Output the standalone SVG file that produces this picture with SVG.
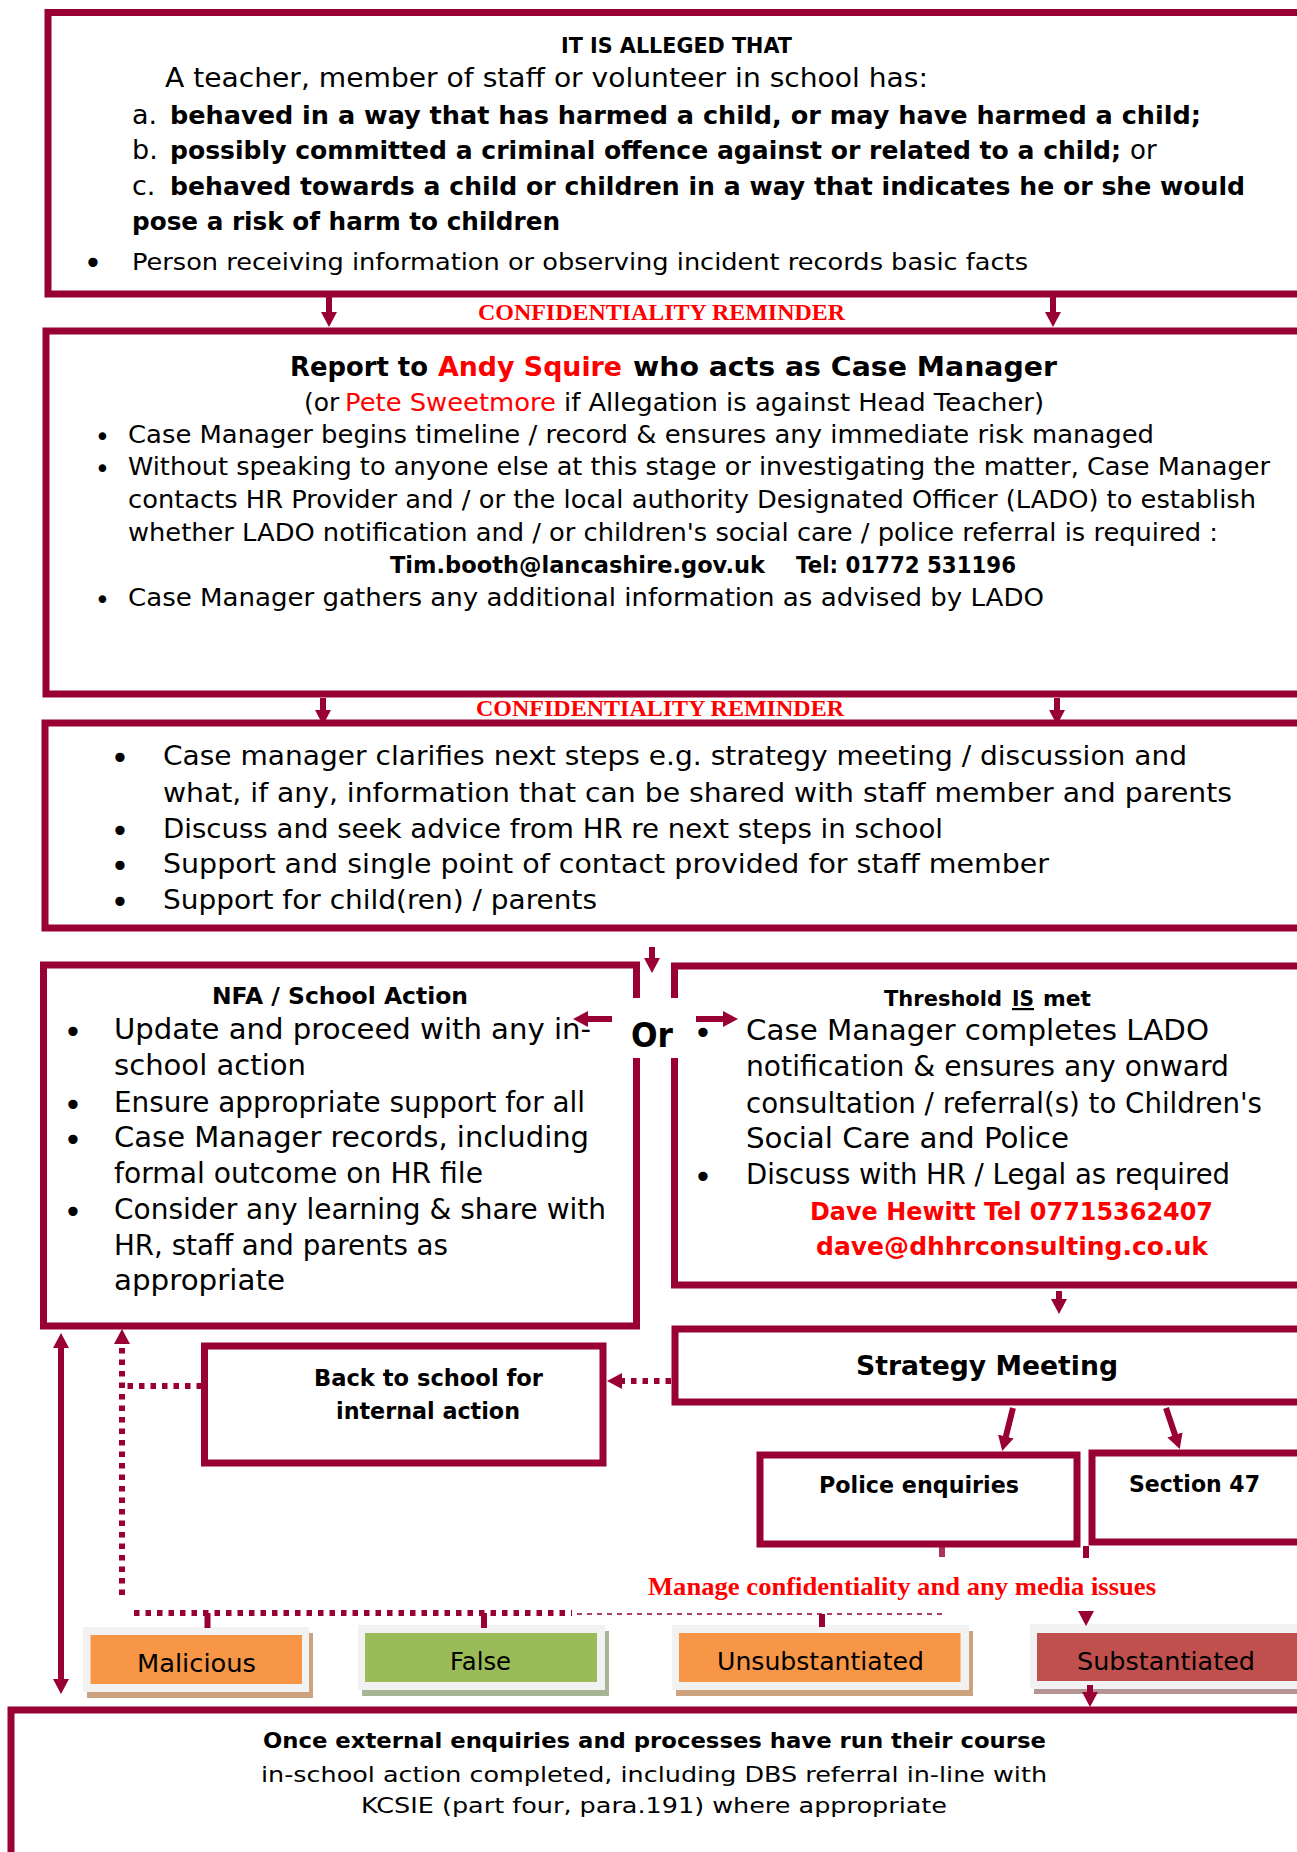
<svg xmlns="http://www.w3.org/2000/svg" width="1297" height="1852" viewBox="0 0 1297 1852">
<defs>
<style>
.t{font-family:"DejaVu Sans","Liberation Sans",sans-serif;fill:#000}
.b{font-weight:bold}
.r{fill:#ff0000}
.bl{font-family:"DejaVu Sans","Liberation Sans",sans-serif;fill:#000;font-size:32px;text-anchor:middle}
.bl.bs{font-size:26px}
.tm{font-family:"Liberation Serif","Times New Roman",serif;font-weight:bold;fill:#ff0000}
.box{fill:#fff;stroke:#990033;stroke-width:7}
.open{fill:none;stroke:#990033;stroke-width:7}
.conn{stroke:#990033;stroke-width:6;fill:none}
.dot{stroke:#990033;stroke-width:6;stroke-dasharray:5.5 6;fill:none}
.dash{stroke:#990033;stroke-width:1.6;stroke-dasharray:5 5;fill:none}
.frame{fill:#f2f2f2}
</style>
<marker id="ah" viewBox="0 0 15 16" refX="1" refY="8" markerWidth="15" markerHeight="16" markerUnits="userSpaceOnUse" orient="auto-start-reverse">
<path d="M0,0 L15,8 L0,16 Z" fill="#990033"/>
</marker>
</defs>
<rect x="0" y="0" width="1297" height="1852" fill="#fff"/>

<g id="node-alleged">
<rect class="box" x="48" y="12.5" width="1262" height="281.5"/>
<text class="t b" x="561" y="53" font-size="22" textLength="231" lengthAdjust="spacingAndGlyphs">IT IS ALLEGED THAT</text>
<text class="t" x="165" y="87" font-size="26" textLength="763" lengthAdjust="spacingAndGlyphs">A teacher, member of staff or volunteer in school has:</text>
<text class="t" x="132" y="124" font-size="27">a.</text>
<text class="t b" x="170" y="124" font-size="25" textLength="1031" lengthAdjust="spacingAndGlyphs">behaved in a way that has harmed a child, or may have harmed a child;</text>
<text class="t" x="132" y="159" font-size="27">b.</text>
<text class="t b" x="170" y="159" font-size="25" textLength="951" lengthAdjust="spacingAndGlyphs">possibly committed a criminal offence against or related to a child;</text>
<text class="t" x="1130" y="159" font-size="26">or</text>
<text class="t" x="132" y="195" font-size="27">c.</text>
<text class="t b" x="170" y="195" font-size="25" textLength="1075" lengthAdjust="spacingAndGlyphs">behaved towards a child or children in a way that indicates he or she would</text>
<text class="t b" x="132" y="230" font-size="24.6" textLength="428" lengthAdjust="spacingAndGlyphs">pose a risk of harm to children</text>
<text class="bl" x="93" y="274">•</text>
<text class="t" x="132" y="270" font-size="23" textLength="896" lengthAdjust="spacingAndGlyphs">Person receiving information or observing incident records basic facts</text>
</g>

<g id="label-conf1">
<text class="tm" x="478" y="320" font-size="24" textLength="367" lengthAdjust="spacingAndGlyphs">CONFIDENTIALITY REMINDER</text>
</g>

<g id="node-report">
<rect class="box" x="46" y="331" width="1264" height="363"/>
<text class="t b" x="290" y="376" font-size="27" textLength="138" lengthAdjust="spacingAndGlyphs">Report to</text>
<text class="t b r" x="438" y="376" font-size="27" textLength="184" lengthAdjust="spacingAndGlyphs">Andy Squire</text>
<text class="t b" x="633" y="376" font-size="27" textLength="424" lengthAdjust="spacingAndGlyphs">who acts as Case Manager</text>
<text class="t" x="304" y="411" font-size="25">(or</text>
<text class="t r" x="345" y="411" font-size="25" textLength="211" lengthAdjust="spacingAndGlyphs">Pete Sweetmore</text>
<text class="t" x="564" y="411" font-size="25" textLength="480" lengthAdjust="spacingAndGlyphs">if Allegation is against Head Teacher)</text>
<text class="bl bs" x="102.5" y="446">•</text>
<text class="t" x="128" y="443" font-size="25" textLength="1026" lengthAdjust="spacingAndGlyphs">Case Manager begins timeline / record &amp; ensures any immediate risk managed</text>
<text class="bl bs" x="102.5" y="478">•</text>
<text class="t" x="128" y="475" font-size="25" textLength="1142" lengthAdjust="spacingAndGlyphs">Without speaking to anyone else at this stage or investigating the matter, Case Manager</text>
<text class="t" x="128" y="508" font-size="25" textLength="1128" lengthAdjust="spacingAndGlyphs">contacts HR Provider and / or the local authority Designated Officer (LADO) to establish</text>
<text class="t" x="128" y="541" font-size="25" textLength="1090" lengthAdjust="spacingAndGlyphs">whether LADO notification and / or children's social care / police referral is required :</text>
<text class="t b" x="390" y="573" font-size="23" textLength="375" lengthAdjust="spacingAndGlyphs">Tim.booth@lancashire.gov.uk</text>
<text class="t b" x="796" y="573" font-size="23" textLength="220" lengthAdjust="spacingAndGlyphs">Tel: 01772 531196</text>
<text class="bl bs" x="102.5" y="609">•</text>
<text class="t" x="128" y="606" font-size="25" textLength="916" lengthAdjust="spacingAndGlyphs">Case Manager gathers any additional information as advised by LADO</text>
</g>

<g id="label-conf2">
<text class="tm" x="476" y="716" font-size="24" textLength="368" lengthAdjust="spacingAndGlyphs">CONFIDENTIALITY REMINDER</text>
</g>

<g id="node-clarify">
<rect class="box" x="45" y="723" width="1265" height="205"/>
<text class="bl" x="120" y="769">•</text>
<text class="t" x="163" y="765" font-size="27" textLength="1024" lengthAdjust="spacingAndGlyphs">Case manager clarifies next steps e.g. strategy meeting / discussion and</text>
<text class="t" x="163" y="802" font-size="27" textLength="1069" lengthAdjust="spacingAndGlyphs">what, if any, information that can be shared with staff member and parents</text>
<text class="bl" x="120" y="842">•</text>
<text class="t" x="163" y="838" font-size="27" textLength="780" lengthAdjust="spacingAndGlyphs">Discuss and seek advice from HR re next steps in school</text>
<text class="bl" x="120" y="877">•</text>
<text class="t" x="163" y="873" font-size="27" textLength="886" lengthAdjust="spacingAndGlyphs">Support and single point of contact provided for staff member</text>
<text class="bl" x="120" y="913">•</text>
<text class="t" x="163" y="909" font-size="27" textLength="434" lengthAdjust="spacingAndGlyphs">Support for child(ren) / parents</text>
</g>

<g id="node-nfa">
<path class="open" d="M636.5,998 V965 H43.5 V1326 H636.5 V1058"/>
<text class="t b" x="212" y="1004" font-size="23.5" textLength="256" lengthAdjust="spacingAndGlyphs">NFA / School Action</text>
<text class="bl" x="73" y="1043">•</text>
<text class="t" x="114" y="1039" font-size="28" textLength="477" lengthAdjust="spacingAndGlyphs">Update and proceed with any in-</text>
<text class="t" x="114" y="1075" font-size="28" textLength="192" lengthAdjust="spacingAndGlyphs">school action</text>
<text class="bl" x="73" y="1116">•</text>
<text class="t" x="114" y="1112" font-size="28" textLength="471" lengthAdjust="spacingAndGlyphs">Ensure appropriate support for all</text>
<text class="bl" x="73" y="1151">•</text>
<text class="t" x="114" y="1147" font-size="28" textLength="475" lengthAdjust="spacingAndGlyphs">Case Manager records, including</text>
<text class="t" x="114" y="1183" font-size="28" textLength="369" lengthAdjust="spacingAndGlyphs">formal outcome on HR file</text>
<text class="bl" x="73" y="1223">•</text>
<text class="t" x="114" y="1219" font-size="28" textLength="492" lengthAdjust="spacingAndGlyphs">Consider any learning &amp; share with</text>
<text class="t" x="114" y="1255" font-size="28" textLength="334" lengthAdjust="spacingAndGlyphs">HR, staff and parents as</text>
<text class="t" x="114" y="1290" font-size="28" textLength="171" lengthAdjust="spacingAndGlyphs">appropriate</text>
</g>

<g id="label-or">
<text class="t b" x="631" y="1047" font-size="33" textLength="42" lengthAdjust="spacingAndGlyphs">Or</text>
</g>

<g id="node-threshold">
<path class="open" d="M674.5,998 V966 H1310 V1285 H674.5 V1058"/>
<text class="t b" x="884" y="1006" font-size="22" textLength="118" lengthAdjust="spacingAndGlyphs">Threshold</text>
<text class="t b" x="1012" y="1006" font-size="22" text-decoration="underline" textLength="22" lengthAdjust="spacingAndGlyphs">IS</text>
<text class="t b" x="1043" y="1006" font-size="22" textLength="48" lengthAdjust="spacingAndGlyphs">met</text>
<text class="bl" x="703" y="1044">•</text>
<text class="t" x="746" y="1040" font-size="28" textLength="463" lengthAdjust="spacingAndGlyphs">Case Manager completes LADO</text>
<text class="t" x="746" y="1076" font-size="28" textLength="483" lengthAdjust="spacingAndGlyphs">notification &amp; ensures any onward</text>
<text class="t" x="746" y="1113" font-size="28" textLength="516" lengthAdjust="spacingAndGlyphs">consultation / referral(s) to Children's</text>
<text class="t" x="746" y="1148" font-size="28" textLength="323" lengthAdjust="spacingAndGlyphs">Social Care and Police</text>
<text class="bl" x="703" y="1188">•</text>
<text class="t" x="746" y="1184" font-size="28" textLength="484" lengthAdjust="spacingAndGlyphs">Discuss with HR / Legal as required</text>
<text class="t b r" x="810" y="1220" font-size="24.5" textLength="403" lengthAdjust="spacingAndGlyphs">Dave Hewitt Tel 07715362407</text>
<text class="t b r" x="816" y="1255" font-size="24.5" textLength="392" lengthAdjust="spacingAndGlyphs">dave@dhhrconsulting.co.uk</text>
</g>

<g id="node-strategy">
<rect class="box" x="675" y="1329" width="635" height="73"/>
<text class="t b" x="856" y="1375" font-size="27" textLength="262" lengthAdjust="spacingAndGlyphs">Strategy Meeting</text>
</g>

<g id="node-back">
<rect class="box" x="204.5" y="1346" width="398.5" height="117"/>
<text class="t b" x="314" y="1386" font-size="23" textLength="229" lengthAdjust="spacingAndGlyphs">Back to school for</text>
<text class="t b" x="336" y="1419" font-size="23" textLength="184" lengthAdjust="spacingAndGlyphs">internal action</text>
</g>

<g id="node-police">
<rect class="box" x="760" y="1455" width="317" height="89"/>
<text class="t b" x="819" y="1493" font-size="23" textLength="200" lengthAdjust="spacingAndGlyphs">Police enquiries</text>
</g>

<g id="node-section47">
<rect class="box" x="1092" y="1453" width="218" height="89"/>
<text class="t b" x="1129" y="1492" font-size="23" textLength="131" lengthAdjust="spacingAndGlyphs">Section 47</text>
</g>

<g id="label-manage">
<text class="tm" x="648" y="1595" font-size="26" textLength="508" lengthAdjust="spacingAndGlyphs">Manage confidentiality and any media issues</text>
</g>

<g id="node-malicious">
<rect x="87" y="1633" width="226" height="65" fill="#cca27f"/>
<rect class="frame" x="83" y="1627" width="226" height="65"/>
<rect x="90.5" y="1635" width="211.5" height="49" fill="#f79646"/>
<text class="t" x="137" y="1672" font-size="25" textLength="119" lengthAdjust="spacingAndGlyphs">Malicious</text>
</g>

<g id="node-false">
<rect x="362" y="1631" width="247" height="65" fill="#a8b594"/>
<rect class="frame" x="358" y="1625" width="247" height="65"/>
<rect x="365" y="1633" width="232" height="49" fill="#9bbb59"/>
<text class="t" x="450" y="1670" font-size="25" textLength="61" lengthAdjust="spacingAndGlyphs">False</text>
</g>

<g id="node-unsubstantiated">
<rect x="676" y="1631" width="297" height="65" fill="#cca27f"/>
<rect class="frame" x="672" y="1625" width="297" height="65"/>
<rect x="679" y="1633" width="281.5" height="49" fill="#f79646"/>
<text class="t" x="717" y="1670" font-size="25" textLength="207" lengthAdjust="spacingAndGlyphs">Unsubstantiated</text>
</g>

<g id="node-substantiated">
<rect x="1034" y="1630" width="280" height="64" fill="#b59594"/>
<rect class="frame" x="1030" y="1624" width="280" height="65"/>
<rect x="1037" y="1633" width="280" height="48" fill="#c0504d"/>
<text class="t" x="1077" y="1670" font-size="25" textLength="178" lengthAdjust="spacingAndGlyphs">Substantiated</text>
</g>

<g id="node-final">
<rect class="box" x="11" y="1710" width="1300" height="200"/>
<text class="t b" x="263" y="1748" font-size="21" textLength="783" lengthAdjust="spacingAndGlyphs">Once external enquiries and processes have run their course</text>
<text class="t" x="261" y="1782" font-size="22" textLength="786" lengthAdjust="spacingAndGlyphs">in-school action completed, including DBS referral in-line with</text>
<text class="t" x="361" y="1813" font-size="22" textLength="586" lengthAdjust="spacingAndGlyphs">KCSIE (part four, para.191) where appropriate</text>
</g>

<g id="connectors">
<line class="conn" x1="329" y1="297" x2="329" y2="313" marker-end="url(#ah)"/>
<line class="conn" x1="1053" y1="297" x2="1053" y2="313" marker-end="url(#ah)"/>
<line class="conn" x1="323" y1="698" x2="323" y2="711" marker-end="url(#ah)"/>
<line class="conn" x1="1057" y1="698" x2="1057" y2="711" marker-end="url(#ah)"/>
<line class="conn" x1="652" y1="947" x2="652" y2="959" marker-end="url(#ah)"/>
<line class="conn" x1="612" y1="1019" x2="587" y2="1019" marker-end="url(#ah)"/>
<line class="conn" x1="696" y1="1019" x2="724" y2="1019" marker-end="url(#ah)"/>
<line class="conn" x1="1059" y1="1291" x2="1059" y2="1300" marker-end="url(#ah)"/>
<line class="conn" x1="1013" y1="1408" x2="1005.6" y2="1437.5" marker-end="url(#ah)"/>
<line class="conn" x1="1166" y1="1408" x2="1175.3" y2="1435.8" marker-end="url(#ah)"/>
<line class="dot" x1="671" y1="1381" x2="621" y2="1381" marker-end="url(#ah)"/>
<line class="dot" x1="202" y1="1386" x2="126" y2="1386"/>
<line class="dot" x1="122" y1="1595" x2="122" y2="1343" marker-end="url(#ah)"/>
<line class="conn" x1="61" y1="1347" x2="61" y2="1680" marker-start="url(#ah)" marker-end="url(#ah)"/>
<line class="dot" x1="134" y1="1613" x2="572" y2="1613"/>
<line class="dash" x1="577" y1="1614" x2="942" y2="1614"/>
<line class="conn" x1="207.5" y1="1613" x2="207.5" y2="1628"/>
<line class="conn" x1="484" y1="1613" x2="484" y2="1628"/>
<line class="conn" x1="822" y1="1614" x2="822" y2="1627"/>
<line class="conn" x1="942" y1="1547" x2="942" y2="1557" stroke-opacity="0.8"/>
<line class="conn" x1="1086" y1="1546" x2="1086" y2="1558"/>
<line x1="1086" y1="1611" x2="1086" y2="1612" stroke="#990033" stroke-width="1" marker-end="url(#ah)"/>
<line class="conn" x1="1090" y1="1685" x2="1090" y2="1693" marker-end="url(#ah)"/>
</g>
</svg>
